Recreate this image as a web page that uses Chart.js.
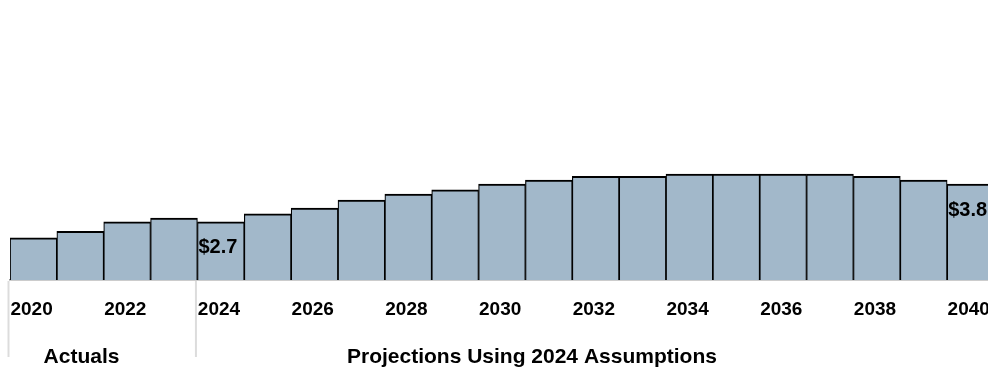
<!DOCTYPE html>
<html>
<head>
<meta charset="utf-8">
<script src="https://cdn.jsdelivr.net/npm/chart.js@4/dist/chart.umd.min.js"></script>
<style>
  html, body { margin: 0; padding: 0; background: #fff; overflow: hidden; }
  #wrap { position: relative; width: 994px; height: 371px; }
</style>
</head>
<body>
<div id="wrap"><canvas id="costChart"></canvas></div>
<script>
const years = [
  "2020", "2021", "2022", "2023", "2024", "2025", "2026", "2027", "2028", "2029",
  "2030", "2031", "2032", "2033", "2034", "2035", "2036", "2037", "2038", "2039",
  "2040",
];
const values = [
  2.23, 2.42, 2.7, 2.81, 2.7, 2.93, 3.1, 3.33, 3.51, 3.63,
  3.8, 3.92, 4.03, 4.03, 4.09, 4.09, 4.09, 4.09, 4.03, 3.92,
  3.8,
];
const calloutYears = ["2024", "2040"];
const sections = ["Actuals", "Projections Using 2024 Assumptions"];
const sectionStarts = ["2020", "2024"];

const FONT = "'Liberation Sans', Arial, Helvetica, sans-serif";

// draws the $ callouts inside the bars, the section dividers and names
const overlay = {
  id: "overlay",
  afterDatasetsDraw(chart) {
    const c = chart.ctx;
    const bars = chart.getDatasetMeta(0).data;
    c.save();
    c.font = "bold 20px " + FONT;
    c.fillStyle = "#000";
    c.textBaseline = "middle";
    c.textAlign = "left";
    calloutYears.forEach((yr) => {
      const i = years.indexOf(yr);
      const b = bars[i];
      c.fillText("$" + values[i].toFixed(1), b.x - b.width / 2 + 1, b.y + 26);
    });
    c.restore();
  },
  afterDraw(chart) {
    const c = chart.ctx;
    const bars = chart.getDatasetMeta(0).data;
    const bottom = chart.chartArea.bottom;
    c.save();
    c.strokeStyle = "#dcdcdc";
    c.lineWidth = 2;
    const edges = sectionStarts.map((yr) => {
      const b = bars[years.indexOf(yr)];
      return b.x - b.width / 2 - 1.5;
    });
    edges.forEach((x) => {
      c.beginPath();
      c.moveTo(x, bottom + 1);
      c.lineTo(x, bottom + 77);
      c.stroke();
    });
    c.font = "bold 21px " + FONT;
    c.fillStyle = "#000";
    c.textBaseline = "middle";
    c.textAlign = "center";
    c.fillText(sections[0], edges[0] + 73, bottom + 77);
    c.fillText(sections[1], edges[1] + 336, bottom + 77);
    c.restore();
  },
};

new Chart(document.getElementById("costChart"), {
  type: "bar",
  data: {
    labels: years,
    datasets: [
      {
        data: values,
        backgroundColor: "#a2b8ca",
        borderColor: "#000",
        borderWidth: { top: 2, left: 1.2, right: 1.2, bottom: 0 },
        borderSkipped: false,
        categoryPercentage: 1,
        barPercentage: 1,
      },
    ],
  },
  options: {
    responsive: true,
    maintainAspectRatio: false,
    animation: false,
    layout: { padding: { top: 6, left: 10, right: 0, bottom: 0 } },
    plugins: {
      legend: { display: false },
      tooltip: { enabled: false },
    },
    scales: {
      x: {
        grid: { display: false, drawTicks: false },
        border: { display: true, color: "#9a9a9a", width: 1.5 },
        afterFit(scale) {
          scale.height = 91;
          scale.paddingLeft = 0;
          scale.paddingRight = 0;
        },
        ticks: {
          autoSkip: false,
          maxRotation: 0,
          align: "start",
          labelOffset: -23,
          padding: 18,
          color: "#000",
          font: { family: FONT, size: 19, weight: "bold" },
          callback(val, i) {
            return i % 2 === 0 ? years[i] : "";
          },
        },
      },
      y: {
        display: false,
        min: 1,
        max: 9,
      },
    },
  },
  plugins: [overlay],
});
</script>
</body>
</html>
